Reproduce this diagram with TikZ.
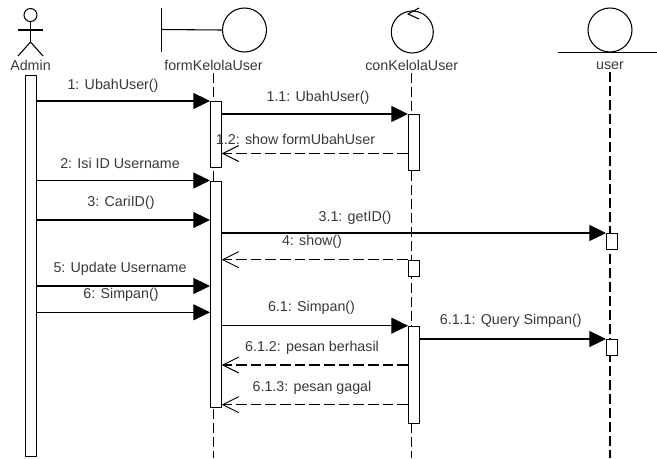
\documentclass[tikz,border=0pt]{standalone}
\usepackage{fontspec}
\setmainfont{Liberation Sans}
\usetikzlibrary{positioning,arrows.meta}

\begin{document}
\begin{tikzpicture}[
  x=0.75pt, y=-0.75pt,
  line width=0.8pt,
  bar/.style={rectangle, draw, fill=white, anchor=north west, inner sep=0pt, minimum width=8pt, minimum height=#1*0.75pt},
  msgtext/.style={inner sep=0pt, text=black!78, font=\fontsize{10.7}{12}\selectfont},
  symbol/.style={circle, draw, inner sep=0pt, minimum size=#1*0.75pt},
  lifeline/.style={draw, dash pattern=on 7.5pt off 3pt},
  call/.style={draw, -{Triangle[length=12.5pt, width=12pt]}},
  reply/.style={draw, dash pattern=on 8pt off 3pt, -{Straight Barb[length=12pt, width=12pt, line width=0.7pt]}}
]
\useasboundingbox (0,0) rectangle (657,458);

% header symbols
\node[symbol=13] (adminHead) at (30.5,15) {};
\node[msgtext] (adminLabel) at (30.5,65.5) {Admin};
\coordinate (adminHip) at (30.5,42);
\draw (adminHead.south) -- (adminHip);
\draw (18,30) -- (43,30);
\draw (18,56) -- (adminHip) -- (43,56);

\node[symbol=44] (formCircle) at (244.5,30) {};
\node[msgtext] (formLabel) at (213.5,65.5) {formKelolaUser};
\draw (161.5,8) -- (161.5,52);
\draw (161.5,29.5) -- (formCircle.west);

\node[symbol=42] (conCircle) at (412.3,32) {};
\node[msgtext] (conLabel) at (411.7,65.5) {conKelolaUser};
\draw (419,8) -- (408,14) -- (419,19);

\node[symbol=44] (userCircle) at (610,30) {};
\node[msgtext] (userLabel) at (610,65.5) {user};
\draw (557.5,52.3) -- (657,52.3);

% lifelines
\draw[lifeline] (formLabel.south) ++(0,2) -- (213.5,458);
\draw[lifeline] (conLabel.south) ++(0,2) -- (411.7,458);
\draw[lifeline] (userLabel.south) ++(0,2) -- (610,458);

% activation bars
\node[bar=381] (adminBar) at (25,75) {};
\node[bar=66] (formBarA) at (210,101) {};
\node[bar=226.5] (formBarB) at (210,180.5) {};
\node[bar=56] (conBarA) at (408,114) {};
\node[bar=16] (conBarB) at (408,259.7) {};
\node[bar=97.3] (conBarC) at (408,325.7) {};
\node[bar=16] (userBarA) at (606,233) {};
\node[bar=16] (userBarB) at (606,339) {};

% messages
\draw[call] (adminBar.east |- formBarA.north) -- (formBarA.north west);
\draw[call] (formBarA.east |- conBarA.north) -- (conBarA.north west);
\draw[reply] (conBarA.west |- 0,153.5) -- (formBarA.east |- 0,153.5);
\draw[call] (adminBar.east |- formBarB.north) -- (formBarB.north west);
\draw[call] (adminBar.east |- 0,220) -- (formBarB.west |- 0,220);
\draw[call] (formBarB.east |- userBarA.north) -- (userBarA.north west);
\draw[reply] (conBarB.north west) -- (formBarB.east |- conBarB.north);
\draw[call] (adminBar.east |- 0,286) -- (formBarB.west |- 0,286);
\draw[call] (adminBar.east |- 0,312.3) -- (formBarB.west |- 0,312.3);
\draw[call] (formBarB.east |- conBarC.north) -- (conBarC.north west);
\draw[call] (conBarC.east |- userBarB.north) -- (userBarB.north west);
\draw[reply] (conBarC.west |- 0,365) -- (formBarB.east |- 0,365);
\draw[reply] (conBarC.west |- 0,404.7) -- (formBarB.east |- 0,404.7);

% message labels
\node[msgtext] (msgA) at (113,85.7) {1: UbahUser()};
\node[msgtext] (msgAa) at (318,98) {1.1: UbahUser()};
\node[msgtext] (msgAb) at (295.5,139) {1.2: show formUbahUser};
\node[msgtext] (msgB) at (120,163.5) {2: Isi ID Username};
\node[msgtext] (msgC) at (121,202.7) {3: CariID()};
\node[msgtext] (msgCa) at (355,218) {3.1: getID()};
\node[msgtext] (msgD) at (312,242.3) {4: show()};
\node[msgtext] (msgE) at (120,268.7) {5: Update Username};
\node[msgtext] (msgF) at (121,295.3) {6: Simpan()};
\node[msgtext] (msgFa) at (311.5,308) {6.1: Simpan()};
\node[msgtext] (msgFb) at (510.7,321.3) {6.1.1: Query Simpan()};
\node[msgtext] (msgFc) at (312,348) {6.1.2: pesan berhasil};
\node[msgtext] (msgFd) at (312,388) {6.1.3: pesan gagal};
\end{tikzpicture}
\end{document}
